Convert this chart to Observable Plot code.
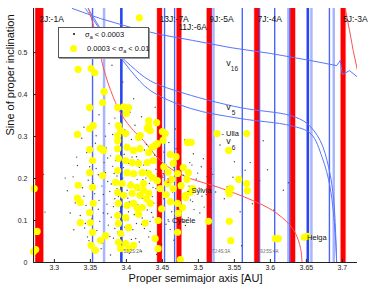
<!DOCTYPE html>
<html><head><meta charset="utf-8">
<script src="https://cdn.jsdelivr.net/npm/d3@7"></script>
<script src="https://cdn.jsdelivr.net/npm/@observablehq/plot@0.6"></script>
<style>
body{margin:0;background:#fff;font-family:"Liberation Sans",Arial,sans-serif;}
#wrap{position:relative;width:374px;height:290px;overflow:hidden;}
#legend{position:absolute;left:58px;top:27px;width:89px;height:29px;border:1px solid #555;background:#fff;font-size:7.5px;color:#111;box-shadow:1px 1px 0 #999;}
#legend .it{position:absolute;white-space:nowrap;line-height:9px;}
#legend sub{font-size:5.5px;vertical-align:-1.5px;line-height:0;}
#legend .sd{position:absolute;left:14px;top:5px;width:1.6px;height:1.6px;background:#222;border-radius:50%;}
#legend .yd{position:absolute;left:11px;top:17px;width:7px;height:7px;background:#ffff00;border-radius:50%;}
</style></head><body><div id="wrap"></div>
<script>
// axis ticks
const xTicks = [3.3, 3.35, 3.4, 3.45, 3.5, 3.55, 3.6, 3.65, 3.7];
const yTicks = [0, 0.1, 0.2, 0.3, 0.4, 0.5];

// mean-motion resonances with Jupiter (red bands)
const wideRed = [3.279];
const redBands = [3.446, 3.473, 3.515, 3.581, 3.631, 3.701];
const resonanceNames = ["2J:-1A", "13J:-7A", "9J:-5A", "7J:-4A", "5J:-3A"];
const resonanceAt = [3.279, 3.446, 3.515, 3.582, 3.701];
const lowerName = ["11J:-6A"];
const lowerAt = [3.472];

// three-body resonances (blue lines)
const darkBlue = [3.353, 3.453, 3.467, 3.518, 3.561, 3.585, 3.606, 3.627, 3.682];
const lightBlue = [3.369, 3.521, 3.625, 3.657, 3.688];
const thickBlue = [3.393, 3.652];
const threeBodyNames = ["5J:2S:2A", "7J:4S:3A", "9J:5S:4A"];
const threeBodyAt = [3.396, 3.519, 3.586];

// secular resonance curves [a, sin i]
const nu16 = [[3.325,0.605],[3.364,0.581],[3.406,0.560],[3.447,0.543],[3.492,0.529],[3.544,0.512],[3.600,0.498],[3.656,0.481],[3.692,0.469],[3.697,0.481],[3.700,0.448],[3.710,0.457],[3.720,0.443]];
const nu5 = [[3.343,0.605],[3.357,0.571],[3.378,0.517],[3.406,0.469],[3.433,0.433],[3.482,0.402],[3.558,0.369],[3.628,0.350],[3.651,0.331],[3.669,0.291],[3.681,0.226],[3.688,0.148],[3.692,0.0]];
const nu6 = [[3.347,0.605],[3.364,0.557],[3.382,0.512],[3.406,0.457],[3.433,0.410],[3.489,0.367],[3.558,0.343],[3.628,0.326],[3.656,0.307],[3.672,0.250],[3.683,0.179],[3.690,0.069],[3.692,0.0]];
const z1 = [[3.347,0.607],[3.360,0.529],[3.368,0.464],[3.382,0.393],[3.394,0.350],[3.410,0.314],[3.424,0.290],[3.447,0.243],[3.468,0.217],[3.489,0.200],[3.528,0.179],[3.575,0.148],[3.603,0.124],[3.625,0.093],[3.635,0.069],[3.642,0.033],[3.644,0.0]];
const z1b = [[3.704,0.605],[3.710,0.552],[3.715,0.505],[3.721,0.457]];

// asteroids with sigma_a < 0.0003 [a, sin i]
const smallSigma = [
[3.362,0.352],[3.384,0.344],[3.405,0.358],[3.421,0.347],[3.447,0.341],
[3.341,0.322],[3.376,0.331],[3.398,0.316],[3.412,0.327],[3.436,0.312],[3.468,0.318],
[3.338,0.296],[3.357,0.284],[3.371,0.301],[3.393,0.288],[3.407,0.293],[3.428,0.281],[3.446,0.298],[3.459,0.286],[3.481,0.292],
[3.345,0.262],[3.362,0.271],[3.378,0.254],[3.386,0.266],[3.397,0.258],[3.414,0.252],[3.425,0.268],[3.439,0.256],[3.452,0.263],[3.472,0.251],[3.493,0.259],
[3.332,0.231],[3.358,0.224],[3.369,0.238],[3.381,0.229],[3.392,0.221],[3.403,0.236],[3.418,0.227],[3.427,0.242],[3.441,0.222],[3.455,0.233],[3.466,0.226],[3.488,0.238],[3.504,0.228],
[3.326,0.204],[3.347,0.196],[3.361,0.209],[3.374,0.193],[3.383,0.212],[3.395,0.201],[3.406,0.191],[3.413,0.207],[3.423,0.197],[3.434,0.214],[3.449,0.203],[3.462,0.192],[3.479,0.208],[3.497,0.199],[3.512,0.205],
[3.318,0.171],[3.339,0.178],[3.356,0.164],[3.366,0.182],[3.377,0.169],[3.387,0.176],[3.399,0.163],[3.409,0.181],[3.417,0.172],[3.428,0.166],[3.437,0.179],[3.453,0.168],[3.468,0.174],[3.484,0.162],[3.501,0.177],
[3.329,0.142],[3.344,0.136],[3.362,0.148],[3.373,0.139],[3.384,0.152],[3.394,0.133],[3.404,0.144],[3.416,0.137],[3.426,0.151],[3.438,0.141],[3.451,0.134],[3.463,0.147],[3.476,0.138],[3.492,0.145],[3.508,0.132],
[3.336,0.112],[3.352,0.104],[3.368,0.118],[3.379,0.108],[3.391,0.121],[3.402,0.101],[3.411,0.114],[3.422,0.106],[3.435,0.119],[3.447,0.109],[3.458,0.102],[3.471,0.116],[3.486,0.107],
[3.342,0.082],[3.359,0.076],[3.375,0.089],[3.388,0.072],[3.398,0.084],[3.409,0.078],[3.421,0.091],[3.433,0.074],[3.444,0.086],[3.461,0.079],[3.482,0.088],
[3.348,0.052],[3.366,0.046],[3.382,0.058],[3.395,0.043],[3.407,0.055],[3.418,0.049],[3.431,0.061],[3.449,0.044],[3.466,0.053],
[3.355,0.024],[3.378,0.018],[3.392,0.031],[3.404,0.022],[3.421,0.027],[3.442,0.019],
[3.371,0.214],[3.379,0.187],[3.385,0.243],[3.389,0.157],[3.396,0.226],[3.401,0.172],[3.408,0.251],[3.412,0.129],[3.415,0.198],[3.419,0.161],[3.424,0.232],[3.429,0.125],[3.432,0.188],[3.436,0.157],[3.443,0.211],[3.445,0.143],[3.382,0.133],[3.391,0.097],[3.397,0.186],[3.403,0.121],[3.409,0.231],[3.414,0.093],[3.421,0.184],[3.427,0.201],[3.433,0.098],[3.438,0.247],[3.374,0.249],[3.368,0.162],[3.361,0.127],[3.354,0.188],[3.349,0.228],[3.458,0.186],[3.463,0.121],[3.474,0.194],[3.478,0.154],[3.487,0.182],[3.494,0.126],[3.499,0.213],[3.505,0.158],[3.513,0.186],[3.517,0.142],[3.524,0.168],
[3.331,0.251],[3.336,0.187],[3.341,0.158],[3.343,0.093],[3.346,0.061],[3.352,0.141],[3.358,0.302],[3.363,0.098],[3.365,0.033],[3.372,0.273],[3.374,0.116],[3.377,0.062],[3.381,0.305],[3.384,0.081],[3.387,0.206],[3.389,0.039],[3.393,0.178],[3.396,0.066],[3.399,0.281],[3.402,0.153],[3.405,0.089],[3.407,0.214],[3.411,0.167],[3.413,0.057],[3.416,0.244],[3.418,0.118],[3.422,0.153],[3.425,0.081],[3.428,0.219],[3.431,0.136],[3.434,0.267],[3.437,0.108],[3.441,0.176],[3.443,0.062],[3.448,0.228],[3.452,0.152],[3.455,0.091],[3.459,0.213],[3.464,0.168],[3.467,0.138],[3.469,0.271],[3.476,0.226],[3.479,0.097],[3.483,0.203],[3.489,0.149],[3.491,0.232],[3.496,0.176],[3.502,0.118],[3.507,0.247],[3.511,0.162],[3.518,0.224],[3.322,0.118],[3.327,0.078],[3.315,0.201],[3.536,0.152],[3.548,0.203],[3.558,0.121],[3.572,0.238],[3.596,0.221],[3.618,0.172],
[3.283,0.16],[3.285,0.21],[3.282,0.05],[3.287,0.12],[3.380,0.47],[3.376,0.52],[3.395,0.43],[3.41,0.39],[3.44,0.37],[3.53,0.28],[3.55,0.24],[3.565,0.22],[3.575,0.14],[3.59,0.29],[3.61,0.05],[3.56,0.04],[3.54,0.18],[3.52,0.21],[3.585,0.195],[3.605,0.125],[3.625,0.19]
];

// asteroids with 0.0003 < sigma_a < 0.01 [a, sin i]
const largeSigma = [
[3.272,0.176],[3.276,0.074],[3.271,0.026],[3.274,0.031],
[3.333,0.460],[3.332,0.305],[3.333,0.184],[3.332,0.153],[3.336,0.143],[3.336,0.095],
[3.351,0.462],[3.356,0.452],[3.349,0.369],[3.349,0.319],[3.354,0.326],[3.349,0.269],[3.353,0.243],[3.349,0.214],[3.353,0.179],[3.354,0.141],[3.349,0.119],[3.350,0.095],[3.353,0.072],[3.351,0.041],[3.357,0.029],
[3.369,0.407],[3.367,0.381],[3.364,0.272],[3.368,0.267],[3.367,0.207],[3.371,0.064],[3.364,0.053],
[3.388,0.369],[3.396,0.371],[3.403,0.369],[3.400,0.355],[3.389,0.326],[3.392,0.314],[3.388,0.302],[3.399,0.307],[3.417,0.298],[3.419,0.302],[3.431,0.338],[3.431,0.326],[3.429,0.319],[3.388,0.290],
[3.388,0.271],[3.401,0.274],[3.410,0.267],[3.419,0.271],[3.431,0.262],[3.389,0.248],[3.399,0.243],[3.408,0.238],[3.417,0.236],[3.429,0.238],
[3.388,0.219],[3.401,0.214],[3.410,0.212],[3.422,0.214],[3.436,0.202],[3.385,0.191],[3.394,0.188],[3.406,0.184],[3.415,0.179],[3.424,0.188],
[3.388,0.167],[3.396,0.160],[3.408,0.165],[3.419,0.160],[3.431,0.165],[3.389,0.141],[3.401,0.136],[3.410,0.141],[3.422,0.131],[3.388,0.112],[3.399,0.107],[3.415,0.129],
[3.389,0.093],[3.403,0.083],[3.392,0.069],[3.389,0.048],[3.399,0.045],[3.403,0.033],[3.410,0.041],[3.392,0.033],
[3.465,0.236],[3.471,0.212],[3.465,0.176],[3.482,0.155],[3.471,0.141],[3.472,0.117],[3.457,0.188],[3.443,0.195],[3.431,0.212],[3.424,0.172],[3.433,0.141],[3.444,0.100],[3.440,0.057],[3.444,0.033],[3.471,0.072],
[3.442,0.333],[3.433,0.314],[3.454,0.307],[3.451,0.291],[3.461,0.257],[3.443,0.283],[3.436,0.274],[3.437,0.243],[3.440,0.279],[3.450,0.312],[3.485,0.286],
[3.452,0.228],[3.458,0.215],[3.463,0.198],[3.447,0.176],[3.455,0.162],[3.476,0.183],[3.479,0.226],[3.469,0.252],[3.484,0.198],[3.461,0.145],[3.449,0.128],[3.478,0.131],[3.486,0.214],[3.428,0.152],[3.417,0.115],[3.426,0.094],
[3.490,0.286],[3.489,0.167],[3.482,0.160],[3.492,0.176],[3.514,0.098],[3.526,0.307],[3.567,0.307],[3.542,0.267],[3.542,0.171],[3.543,0.164],[3.545,0.176],[3.556,0.198],[3.567,0.188],[3.568,0.171],[3.543,0.098],[3.545,0.052],[3.475,0.007],
[3.607,0.057],[3.611,0.057],[3.647,0.060],[3.651,0.062],[3.418,0.583]
];

// named asteroids
const asteroidNames = ["- Ulla", "- Sylvia", "- Cybele", "Helga"];
const asteroidA = [3.532, 3.484, 3.457, 3.651];
const asteroidS = [0.307, 0.171, 0.100, 0.060];

// secular resonance labels
const secNames = ["v", "v", "v", "z"];
const secA = [3.542, 3.542, 3.542, 3.451];
const secS = [0.474, 0.369, 0.288, 0.207];
const secSub = ["16", "5", "6", "1"];
const secSubA = [3.550, 3.549, 3.549, 3.458];
const secSubS = [0.460, 0.357, 0.274, 0.195];

const pts = arr => arr.map(([a, s]) => ({a, s}));
const lbl = (names, as, ss) => names.map((t, i) => ({t, a: as[i], s: ss[i]}));
const font = "Liberation Sans, Arial, Helvetica, sans-serif";

const chart = Plot.plot({
  width: 374, height: 290,
  marginLeft: 33, marginRight: 17, marginTop: 8, marginBottom: 28,
  x: {domain: [3.271, 3.721]},
  y: {domain: [0, 0.605]},
  style: {fontFamily: font, background: "white", color: "#222"},
  marks: [
    Plot.ruleX(redBands, {stroke: "#ffc4c4", strokeWidth: 6.2}),
    Plot.ruleX(wideRed, {stroke: "#ffc4c4", strokeWidth: 9.2}),
    Plot.ruleX(lightBlue, {stroke: "#a8b6ff", strokeWidth: 2.5}),
    Plot.ruleX(darkBlue, {stroke: "#4a66ff", strokeWidth: 1.4}),
    Plot.ruleX(thickBlue, {stroke: "#2a46f0", strokeWidth: 2.6}),
    Plot.ruleX(wideRed, {stroke: "#ff0000", strokeWidth: 8}),
    Plot.ruleX(redBands, {stroke: "#ff0000", strokeWidth: 4.8}),
    Plot.line(pts(nu16).slice(0, 10), {x: "a", y: "s", stroke: "#5a74ff", strokeWidth: 1, clip: true}),
    Plot.line(pts(nu16).slice(9), {x: "a", y: "s", stroke: "#5a74ff", strokeWidth: 1, clip: true}),
    Plot.line(pts(nu5), {x: "a", y: "s", stroke: "#5a74ff", strokeWidth: 1, curve: "catmull-rom", clip: true}),
    Plot.line(pts(nu6), {x: "a", y: "s", stroke: "#5a74ff", strokeWidth: 1, curve: "catmull-rom", clip: true}),
    Plot.line(pts(z1), {x: "a", y: "s", stroke: "#ff5050", strokeWidth: 1, curve: "catmull-rom", clip: true}),
    Plot.line(pts(z1b), {x: "a", y: "s", stroke: "#ff5050", strokeWidth: 1, clip: true}),
    Plot.dot(pts(smallSigma), {x: "a", y: "s", r: 0.7, fill: "#444", stroke: null}),
    Plot.dot(pts(largeSigma), {x: "a", y: "s", r: 3.6, fill: "#ffff00", stroke: null}),
    Plot.ruleY([0], {stroke: "#222", strokeWidth: 1}),
    Plot.ruleX([3.271], {stroke: "#222", strokeWidth: 1}),
    Plot.text(resonanceNames.map((t, i) => ({t, a: resonanceAt[i]})), {x: "a", text: "t", frameAnchor: "top", dy: 7, textAnchor: "start", fontSize: 8.5, fill: "#111"}),
    Plot.text(lowerName.map((t, i) => ({t, a: lowerAt[i]})), {x: "a", text: "t", frameAnchor: "top", dy: 15, textAnchor: "start", fontSize: 8.5, fill: "#111"}),
    Plot.text(threeBodyNames.map((t, i) => ({t, a: threeBodyAt[i]})), {x: "a", text: "t", frameAnchor: "bottom", dy: -10, textAnchor: "start", fontSize: 4.5, fill: "#666"}),
    Plot.text(lbl(asteroidNames, asteroidA, asteroidS), {x: "a", y: "s", text: "t", textAnchor: "start", fontSize: 7.5, fill: "#111"}),
    Plot.text(lbl(secNames, secA, secS), {x: "a", y: "s", text: "t", fontSize: 9, fill: (d) => d.t === "z" ? "#ff3030" : "#222"}),
    Plot.text(lbl(secSub, secSubA, secSubS), {x: "a", y: "s", text: "t", fontSize: 6.5, fill: (d) => d.t === "1" ? "#ff3030" : "#222"}),
    Plot.axisX(xTicks, {tickSize: -3, tickPadding: 6, fontSize: 7, label: null, tickFormat: d => String(d)}),
    Plot.axisY(yTicks, {tickSize: -3, tickPadding: 9, fontSize: 7, label: null, tickFormat: d => String(d)}),
    Plot.text(["Proper semimajor axis [AU]"], {frameAnchor: "bottom", dy: 19.5, fontSize: 11, fill: "#111"}),
    Plot.text(["Sine of proper inclination"], {frameAnchor: "left", dx: -23, rotate: -90, fontSize: 11, fill: "#111"})
  ]
});
const wrap = document.getElementById("wrap");
wrap.appendChild(chart);
const lg = document.createElement("div");
lg.id = "legend";
lg.innerHTML = '<div class="sd"></div><div class="it" style="left:26px;top:2px">σ<sub>a</sub> &lt; 0.0003</div>' +
  '<div class="yd"></div><div class="it" style="left:28px;top:16px">0.0003 &lt; σ<sub>a</sub> &lt; 0.01</div>';
wrap.appendChild(lg);
</script></body></html>
